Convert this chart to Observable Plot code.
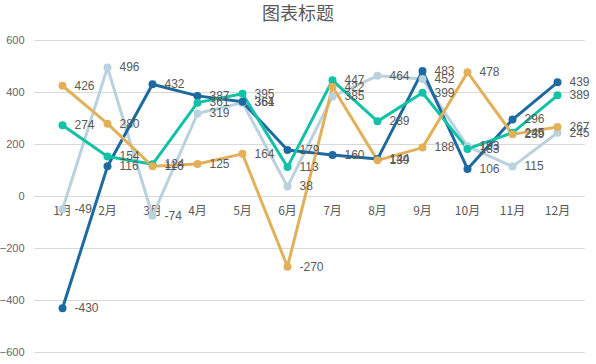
<!DOCTYPE html>
<html><head><meta charset="utf-8">
<script src="https://cdn.jsdelivr.net/npm/d3@7"></script>
<script src="https://cdn.jsdelivr.net/npm/@observablehq/plot@0.6"></script>
<style>
body{margin:0;background:#fff;}
#title{height:24px;line-height:24px;text-align:center;font-family:"Noto Sans CJK SC",sans-serif;font-size:18px;color:#595959;}
#chart svg{overflow:visible;}
</style>
</head><body>
<div id="title">图表标题</div>
<div id="chart"></div>
<script>
const months = ["1月","2月","3月","4月","5月","6月","7月","8月","9月","10月","11月","12月"];
const seriesNames = ["A","B","C","D"];
const seriesColors = ["#bad1de","#1c6aa0","#12c1a6","#e3b05a"];
const valuesA = [-49, 496, -74, 319, 361, 38, 385, 464, 452, 193, 115, 245];   // light blue
const valuesB = [-430, 116, 432, 387, 364, 179, 160, 144, 483, 106, 296, 439]; // dark blue
const valuesC = [274, 154, 124, 361, 395, 113, 447, 289, 399, 183, 245, 389];  // teal
const valuesD = [426, 280, 116, 125, 164, -270, 422, 139, 188, 478, 239, 267]; // gold
const yTicks = [-600, -400, -200, 0, 200, 400, 600];

const allValues = [valuesA, valuesB, valuesC, valuesD];
const data = [];
allValues.forEach((vals, si) => vals.forEach((v, i) => data.push({series: seriesNames[si], month: months[i], value: v})));

const chart = Plot.plot({
  width: 596,
  height: 340,
  marginLeft: 34,
  marginRight: 11,
  marginTop: 16,
  marginBottom: 12,
  style: {fontFamily: "'Liberation Sans', Arial, sans-serif", fontSize: "12px", color: "#666", overflow: "visible"},
  x: {type: "point", domain: months, padding: 0.5, axis: null},
  y: {domain: [-600, 600], ticks: yTicks},
  color: {domain: seriesNames, range: seriesColors},
  marks: [
    Plot.gridY(yTicks, {stroke: "#d9d9d9", strokeOpacity: 1, strokeWidth: 1}),
    Plot.axisY(yTicks, {tickSize: 0, tickPadding: 10, label: null, fill: "#666", fontSize: 11}),
    Plot.text(months, {x: d => d, y: 0, dy: 15, fill: "#595959", fontSize: 12, fontFamily: "'Noto Sans CJK SC', sans-serif"}),
    Plot.line(data, {x: "month", y: "value", z: "series", stroke: "series", strokeWidth: 3}),
    Plot.dot(data, {x: "month", y: "value", fill: "series", r: 4, stroke: "none"}),
    Plot.text(data, {x: "month", y: "value", text: d => String(d.value), dx: 12, textAnchor: "start", fill: "#595959", fontSize: 12})
  ]
});
document.getElementById("chart").appendChild(chart);
</script>
</body></html>
